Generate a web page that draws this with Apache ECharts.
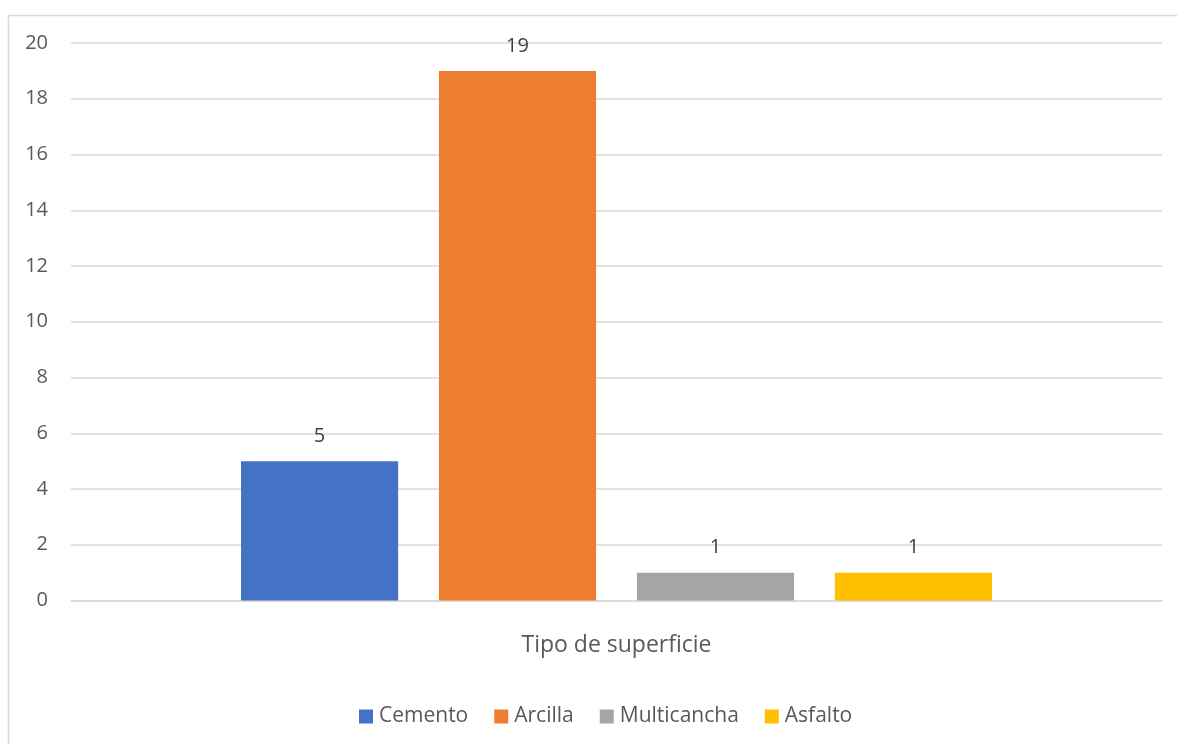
<!DOCTYPE html>
<html><head><meta charset="utf-8">
<script src="https://cdn.jsdelivr.net/npm/echarts@6/dist/echarts.min.js"></script>
<style>html,body{margin:0;padding:0;background:#fff}#c{width:1177px;height:744px}</style>
</head><body><div id="c"></div>
<script>
const categories = ['Tipo de superficie'];
const seriesNames = ['Cemento', 'Arcilla', 'Multicancha', 'Asfalto'];
const cemento = [5];
const arcilla = [19];
const multicancha = [1];
const asfalto = [1];
const colors = ['#4472C4', '#ED7D31', '#A5A5A5', '#FFC000'];
const values = [cemento, arcilla, multicancha, asfalto];

const font = '"Open Sans", sans-serif';
const chart = echarts.init(document.getElementById('c'), null, {renderer: 'canvas'});
chart.setOption({
  animation: false,
  textStyle: {fontFamily: font},
  graphic: [{
    type: 'rect', left: 6, top: 13, z: -1,
    shape: {width: 1200, height: 760},
    style: {fill: 'none', stroke: '#d9d9d9', lineWidth: 1.5}
  }],
  grid: {left: 71, right: 15, top: 43, bottom: 143.5, containLabel: false},
  legend: {
    data: seriesNames, top: 701, left: 354,
    itemWidth: 14, itemHeight: 14, itemGap: 26, icon: 'rect',
    textStyle: {fontSize: 21, color: '#595959', fontFamily: font, padding: [0, 0, 0, 1]}
  },
  xAxis: {
    type: 'category', data: categories,
    axisLine: {lineStyle: {color: '#d9d9d9', width: 1.5}},
    axisTick: {show: false},
    axisLabel: {fontSize: 23, color: '#595959', margin: 33, fontFamily: font}
  },
  yAxis: {
    type: 'value', min: 0, max: 20, interval: 2,
    axisLine: {show: false}, axisTick: {show: false},
    splitLine: {lineStyle: {color: '#d9d9d9', width: 1.5}},
    axisLabel: {fontSize: 20, color: '#595959', margin: 23, fontFamily: font}
  },
  series: seriesNames.map((n, i) => ({
    name: n, type: 'bar', data: values[i],
    barWidth: '14.4%', barGap: '26%',
    itemStyle: {color: colors[i]},
    label: {show: true, position: 'top', distance: 15, fontSize: 20, color: '#404040', fontFamily: font}
  }))
});
</script></body></html>
